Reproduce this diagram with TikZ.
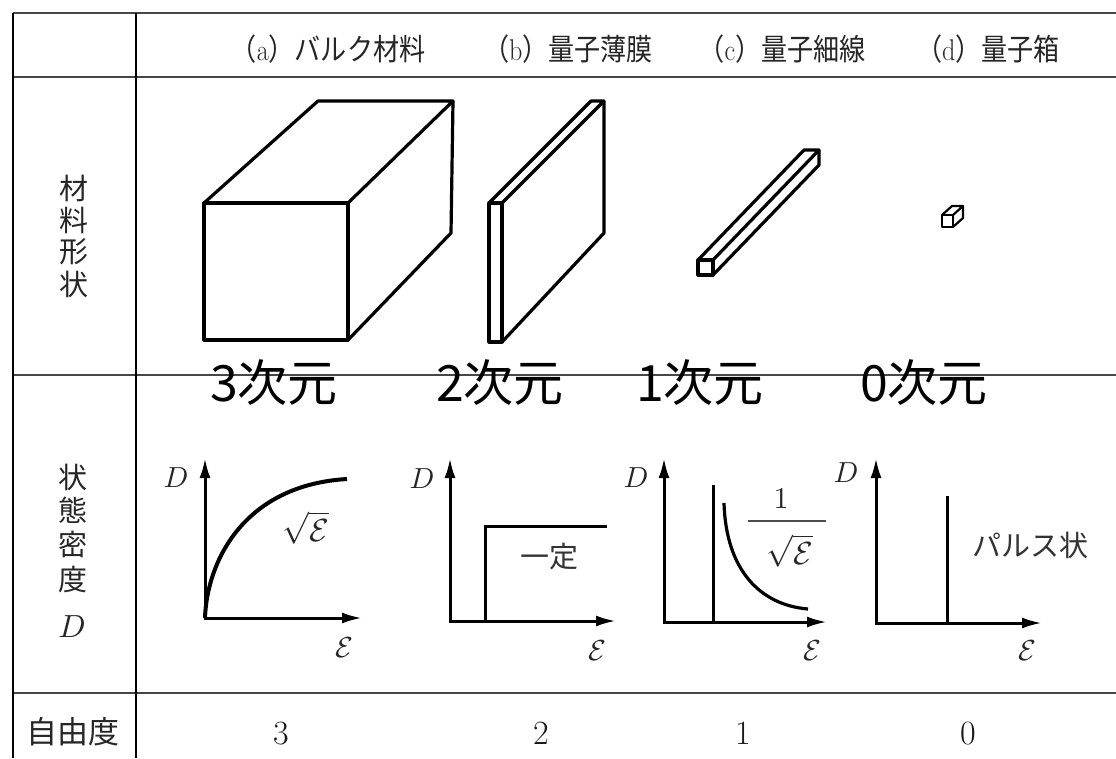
\documentclass[tikz,border=0pt]{standalone}
\usepackage{graphicx}
\usepackage{fontspec}
\newfontfamily\cjk{Noto Sans CJK JP}
\usetikzlibrary{arrows.meta}
\newcommand\bigmath[2]{\scalebox{#1}{$#2$}}
\begin{document}
\begin{tikzpicture}[x=1pt,y=-1pt,
  tblh/.style={line width=2pt, draw=black!72},
  tblv/.style={line width=2.4pt, draw=black},
  shape3d/.style={line width=3.2pt, line join=round, draw=black},
  tiny3d/.style={line width=2.2pt, line join=round, draw=black},
  axes/.style={line width=3pt, {Latex[length=20pt,width=11pt]}-{Latex[length=20pt,width=11pt]}},
  curve/.style={line width=4pt},
  plain/.style={line width=3pt},
  hdr/.style={font=\cjk\fontsize{30}{36}\selectfont, anchor=base, inner sep=0pt, text=black!85},
  colch/.style={font=\cjk\fontsize{29}{32}\selectfont, inner sep=0pt, text=black!85},
  dimlab/.style={font=\cjk\fontsize{50}{60}\selectfont, anchor=base, inner sep=0pt},
  glab/.style={inner sep=0pt, text=black!85},
  jlab/.style={font=\cjk\fontsize{29}{34}\selectfont, inner sep=0pt, text=black!80},
  numlab/.style={font=\fontsize{34}{38}\selectfont, anchor=base, inner sep=0pt, text=black!90}
]
\fill[white] (0,0) rectangle (1116,758);
\useasboundingbox (0,0) rectangle (1116,758);

% ---------- table rules ----------
\draw[tblh] (13,13) -- (1116,13);
\draw[tblh] (13,77) -- (1116,77);
\draw[tblh] (13,375) -- (1116,375);
\draw[tblh] (13,693) -- (1116,693);
\draw[tblv] (13,13) -- (13,758);
\draw[tblv] (136,13) -- (136,758);

% ---------- header ----------
\node[hdr] (ha) at (328,60) {\scalebox{0.87}[1]{（{\rmfamily a}）バルク材料}};
\node[hdr] (hb) at (568,60) {\scalebox{0.87}[1]{（{\rmfamily b}）量子薄膜}};
\node[hdr] (hc) at (782,60) {\scalebox{0.87}[1]{（{\rmfamily c}）量子細線}};
\node[hdr] (hd) at (988,60) {\scalebox{0.87}[1]{（{\rmfamily d}）量子箱}};

% ---------- left column ----------
\node[colch] (k1) at (74,188) {材};
\node[colch] (k2) at (74,220) {料};
\node[colch] (k3) at (74,252) {形};
\node[colch] (k4) at (74,284) {状};

\node[colch] (s1) at (73,477) {状};
\node[colch] (s2) at (73,510) {態};
\node[colch] (s3) at (73,544) {密};
\node[colch] (s4) at (73,579) {度};
\node[glab] (s5) at (72,627) {\bigmath{3.2}{D}};

\node[font=\cjk\fontsize{31}{36}\selectfont, inner sep=0pt, text=black!85] (jyu) at (73,732) {自由度};

% ---------- shapes ----------
% (a) bulk block
\draw[shape3d] (204,203) rectangle (348,340);
\draw[shape3d] (204,203) -- (318,101) -- (453,101) -- (348,203);
\draw[shape3d] (453,101) -- (451,233) -- (348,340);
% (b) thin film
\draw[shape3d] (489,203) rectangle (502,342);
\draw[shape3d] (489,203) -- (591,101) -- (604,101) -- (502,203);
\draw[shape3d] (604,101) -- (604,233) -- (502,342);
% (c) wire
\draw[shape3d] (698,260) rectangle (713,275);
\draw[shape3d] (698,260) -- (804,150) -- (819,150) -- (713,260);
\draw[shape3d] (819,150) -- (819,165) -- (713,275);
% (d) box
\draw[tiny3d] (942,215) rectangle (953,227);
\draw[tiny3d] (942,215) -- (952,206) -- (963,206) -- (953,215);
\draw[tiny3d] (963,206) -- (963,218) -- (953,227);

% ---------- dimension labels ----------
\node[dimlab] (d3) at (274,401) {3次元};
\node[dimlab] (d2) at (500,401) {2次元};
\node[dimlab] (d1) at (700,401) {1次元};
\node[dimlab] (d0) at (924,401) {0次元};

% ---------- graph 1 ----------
\coordinate (g1o) at (205,618);
\coordinate (g1y) at (205,458);
\coordinate (g1x) at (362,618);
\draw[axes] (g1y) -- (g1o) -- (g1x);
\coordinate (g1e) at (347,479);
\draw[curve] (g1o) .. controls (207,560) and (245,485) .. (g1e);
\node[glab] (g1D) at (176,478) {\bigmath{2.9}{D}};
\node[glab] (g1s) at (306,528) {\bigmath{3.2}{\sqrt{\mathcal{E}}}};
\node[glab] (g1E) at (344,648) {\bigmath{2.9}{\mathcal{E}}};

% ---------- graph 2 ----------
\coordinate (g2o) at (450,621);
\coordinate (g2y) at (450,458);
\coordinate (g2x) at (616,621);
\draw[axes] (g2y) -- (g2o) -- (g2x);
\coordinate (g2a) at (485,621);
\coordinate (g2b) at (485,526);
\coordinate (g2c) at (607,526);
\draw[plain] (g2a) -- (g2b) -- (g2c);
\node[glab] (g2D) at (422,479) {\bigmath{2.9}{D}};
\node[jlab] (g2t) at (549,557) {一定};
\node[glab] (g2E) at (597,651) {\bigmath{2.9}{\mathcal{E}}};

% ---------- graph 3 ----------
\coordinate (g3o) at (664,622);
\coordinate (g3y) at (664,458);
\coordinate (g3x) at (827,622);
\draw[axes] (g3y) -- (g3o) -- (g3x);
\coordinate (g3a) at (713,622);
\coordinate (g3b) at (713,485);
\draw[plain] (g3a) -- (g3b);
\coordinate (g3s) at (724,503);
\coordinate (g3e) at (808,609);
\draw[line width=3.2pt] (g3s) .. controls (726,570) and (760,605) .. (g3e);
\node[glab] (g3D) at (636,478) {\bigmath{2.9}{D}};
\node[glab] (g3one) at (781,499) {\bigmath{3}{1}};
\coordinate (g3bl) at (748,521);
\coordinate (g3br) at (826,521);
\draw[line width=1.4pt, black!70] (g3bl) -- (g3br);
\node[glab] (g3den) at (790,551) {\bigmath{3.2}{\sqrt{\mathcal{E}}}};
\node[glab] (g3E) at (812,651) {\bigmath{2.9}{\mathcal{E}}};

% ---------- graph 4 ----------
\coordinate (g4o) at (876,623);
\coordinate (g4y) at (876,458);
\coordinate (g4x) at (1042,623);
\draw[axes] (g4y) -- (g4o) -- (g4x);
\coordinate (g4a) at (947,623);
\coordinate (g4b) at (947,496);
\draw[plain] (g4a) -- (g4b);
\node[glab] (g4D) at (846,473) {\bigmath{2.9}{D}};
\node[jlab] (g4t) at (1030,545) {パルス状};
\node[glab] (g4E) at (1027,651) {\bigmath{2.9}{\mathcal{E}}};

% ---------- degrees of freedom ----------
\node[numlab] (n3) at (281,744) {3};
\node[numlab] (n2) at (541,744) {2};
\node[numlab] (n1) at (743,744) {1};
\node[numlab] (n0) at (968,744) {0};
\end{tikzpicture}
\end{document}
